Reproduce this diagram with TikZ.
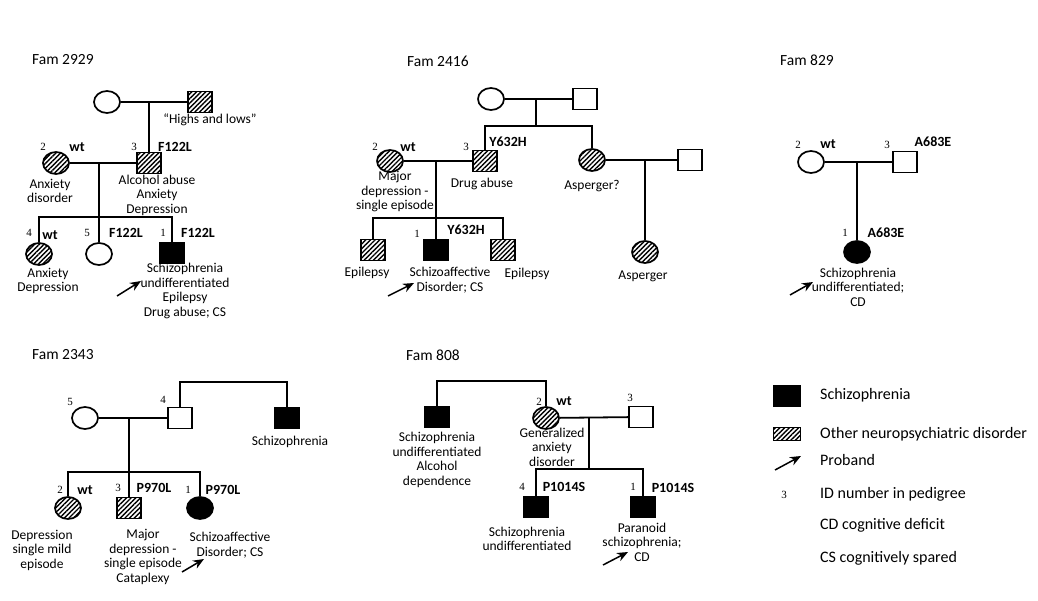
\documentclass[tikz,border=0pt]{standalone}
\usepackage{fontspec}
\setmainfont{Carlito}
\newfontfamily\idfont{Liberation Serif}
\usetikzlibrary{shapes.geometric,patterns.meta,arrows.meta}
\begin{document}
\begin{tikzpicture}[x=1pt,y=-1pt,
 pl/.style={line width=1.8pt},
 ind/.style={draw,line width=1.7pt,inner sep=0pt},
 sq/.style={ind,rectangle,minimum width=24pt,minimum height=21pt},
 ci/.style={ind,ellipse,minimum width=26pt,minimum height=22pt},
 aff/.style={fill=black},
 hat/.style={pattern={Lines[angle=45,distance=3.3pt,line width=1.4pt]}},
 txt/.style={align=center,inner sep=0pt,font=\fontsize{13.5}{14.5}\selectfont},
 mut/.style={inner sep=0pt,font=\fontsize{14}{16}\selectfont\bfseries},
 idn/.style={inner sep=0pt,font=\fontsize{11}{12}\idfont},
 fam/.style={inner sep=0pt,anchor=west,font=\fontsize{15.5}{17}\selectfont},
 leg/.style={inner sep=0pt,anchor=west,font=\fontsize{16}{18}\selectfont},
 prob/.style={line width=1.5pt,-{Stealth[length=11pt,width=9pt]}}
]
\useasboundingbox (0,0) rectangle (1038,601);

% ---------------- Fam 2929
\node[fam] (h1) at (32,60) {Fam 2929};
\node[ci] (a1) at (107,102) {};
\node[sq,hat] (a2) at (200,102) {};
\node[ci,hat] (a3) at (56,163) {};
\node[sq,hat] (a4) at (149,163) {};
\node[ci,hat] (a5) at (39,254) {};
\node[ci] (a6) at (99,254) {};
\node[sq,aff] (a7) at (172,253) {};
\coordinate (a12) at (149,102);
\coordinate (a34) at (99,163);
\coordinate (as) at (99,217);
\draw[pl] (a1) -- (a2);
\draw[pl] (a12) -- (a4);
\draw[pl] (a3) -- (a4);
\draw[pl] (a34) -- (as) -- (a6);
\draw[pl] (a5) |- (as) -| (a7);
\node[txt] (at0) at (210,120) {“Highs and lows”};
\node[idn] (ai2) at (43,147) {2};
\node[mut] (aw2) at (77,147) {wt};
\node[idn] (ai3) at (134,147) {3};
\node[mut] (am3) at (175,147) {F122L};
\node[txt] (at3) at (50,191) {Anxiety\\disorder};
\node[txt] (at4) at (157,195) {Alcohol abuse\\Anxiety\\Depression};
\node[idn] (ai4) at (29,233) {4};
\node[mut] (aw4) at (50,235) {wt};
\node[idn] (ai5) at (87,233) {5};
\node[mut] (am5) at (126,233) {F122L};
\node[idn] (ai1) at (163,233) {1};
\node[mut] (am1) at (198,233) {F122L};
\node[txt] (at5) at (48,281) {Anxiety\\Depression};
\node[txt] (at7) at (185,291) {Schizophrenia\\undifferentiated\\Epilepsy\\Drug abuse; CS};
\coordinate (aa0) at (117,296);
\coordinate (aa1) at (141,281);
\draw[prob] (aa0) -- (aa1);

% ---------------- Fam 2416
\node[fam] (h2) at (407,61) {Fam 2416};
\node[ci] (b1) at (491,99) {};
\node[sq] (b2) at (585,99) {};
\node[ci,hat] (b3) at (390,161) {};
\node[sq,hat] (b4) at (485,161) {};
\node[ci,hat] (b5) at (592,160) {};
\node[sq] (b6) at (690,160) {};
\node[sq,hat] (b7) at (373,250) {};
\node[sq,aff] (b8) at (436,250) {};
\node[sq,hat] (b9) at (503,250) {};
\node[ci,hat] (b10) at (645,252) {};
\coordinate (b12) at (536,99);
\coordinate (bs1) at (536,126);
\coordinate (b34) at (436,161);
\coordinate (bs2) at (436,218);
\coordinate (b56) at (645,160);
\draw[pl] (b1) -- (b2);
\draw[pl] (b12) -- (bs1);
\draw[pl] (b4) |- (bs1) -| (b5);
\draw[pl] (b3) -- (b4);
\draw[pl] (b34) -- (bs2) -- (b8);
\draw[pl] (b7) |- (bs2) -| (b9);
\draw[pl] (b5) -- (b6);
\draw[pl] (b56) -- (b10);
\node[idn] (bi2) at (375,147) {2};
\node[mut] (bw2) at (408,147) {wt};
\node[idn] (bi3) at (466,147) {3};
\node[mut] (bm3) at (508,142) {Y632H};
\node[idn] (bi1) at (417,234) {1};
\node[mut] (bm1) at (466,230) {Y632H};
\node[txt] (bt3) at (395,192) {Major\\depression -\\single episode};
\node[txt] (bt4) at (482,184) {Drug abuse};
\node[txt] (bt5) at (592,186) {Asperger?};
\node[txt] (bt7) at (367,273) {Epilepsy};
\node[txt] (bt8) at (450,280) {Schizoaffective\\Disorder; CS};
\node[txt] (bt9) at (527,274) {Epilepsy};
\node[txt] (bt10) at (643,276) {Asperger};
\coordinate (ba0) at (388,296);
\coordinate (ba1) at (414,283);
\draw[prob] (ba0) -- (ba1);

% ---------------- Fam 829
\node[fam] (h3) at (780,60) {Fam 829};
\node[ci] (c1) at (811,162) {};
\node[sq] (c2) at (905,162) {};
\node[ci,aff] (c3) at (857,252) {};
\coordinate (c12) at (857,162);
\draw[pl] (c1) -- (c2);
\draw[pl] (c12) -- (c3);
\node[idn] (ci2) at (798,145) {2};
\node[mut] (cw2) at (828,144) {wt};
\node[idn] (ci3) at (887,145) {3};
\node[mut] (cm3) at (933,142) {A683E};
\node[idn] (ci1) at (845,233) {1};
\node[mut] (cm1) at (886,233) {A683E};
\node[txt] (ct3) at (858,287) {Schizophrenia\\undifferentiated;\\CD};
\coordinate (ca0) at (790,295);
\coordinate (ca1) at (813,282);
\draw[prob] (ca0) -- (ca1);

% ---------------- Fam 2343
\node[fam] (h4) at (32,355) {Fam 2343};
\node[ci] (d1) at (85,418) {};
\node[sq] (d2) at (180,418) {};
\node[sq,aff] (d3) at (287,418) {};
\node[ci,hat] (d4) at (68,508) {};
\node[sq,hat] (d5) at (129,508) {};
\node[ci,aff] (d6) at (200,508) {};
\coordinate (d12) at (129,418);
\coordinate (ds) at (129,472);
\coordinate (dt) at (234,382);
\draw[pl] (d1) -- (d2);
\draw[pl] (d2) |- (dt) -| (d3);
\draw[pl] (d12) -- (ds) -- (d5);
\draw[pl] (d4) |- (ds) -| (d6);
\node[idn] (di5) at (70,402) {5};
\node[idn] (di4) at (163,400) {4};
\node[txt] (dt3) at (290,442) {Schizophrenia};
\node[idn] (di2) at (60,490) {2};
\node[mut] (dw2) at (85,490) {wt};
\node[idn] (di3) at (118,488) {3};
\node[mut] (dm3) at (154,488) {P970L};
\node[idn] (di1) at (188,490) {1};
\node[mut] (dm1) at (223,490) {P970L};
\node[txt] (dt4) at (42,550) {Depression\\single mild\\episode};
\node[txt] (dt5) at (143,557) {Major\\depression -\\single episode\\Cataplexy};
\node[txt] (dt6) at (230,545) {Schizoaffective\\Disorder; CS};
\coordinate (da0) at (182,572);
\coordinate (da1) at (204,559);
\draw[prob] (da0) -- (da1);

% ---------------- Fam 808
\node[fam] (h5) at (406,355) {Fam 808};
\node[sq,aff] (e1) at (437,417) {};
\node[ci,hat] (e2) at (546,418) {};
\node[sq] (e3) at (641,417) {};
\node[sq,aff] (e4) at (536,507) {};
\node[sq,aff] (e5) at (643,507) {};
\coordinate (et) at (490,381);
\coordinate (e23) at (589,418);
\coordinate (es) at (589,469);
\draw[pl] (e1) |- (et) -| (e2);
\draw[pl] (e2) -- (e3);
\draw[pl] (e23) -- (es);
\draw[pl] (e4) |- (es) -| (e5);
\node[idn] (ei2) at (539,402) {2};
\node[mut] (ew2) at (564,401) {wt};
\node[idn] (ei3) at (630,398) {3};
\node[idn] (ei4) at (522,487) {4};
\node[mut] (em4) at (564,487) {P1014S};
\node[idn] (ei1) at (633,487) {1};
\node[mut] (em1) at (673,488) {P1014S};
\node[txt] (et1) at (437,460) {Schizophrenia\\undifferentiated\\Alcohol\\dependence};
\node[txt] (et2) at (552,447) {Generalized\\anxiety\\disorder};
\node[txt] (et4) at (527,539) {Schizophrenia\\undifferentiated};
\node[txt] (et5) at (642,542) {Paranoid\\schizophrenia;\\CD};
\coordinate (ea0) at (603,565);
\coordinate (ea1) at (628,552);
\draw[prob] (ea0) -- (ea1);

% ---------------- Legend
\node[ind,rectangle,minimum width=26pt,minimum height=20pt,aff] (l1) at (787,396) {};
\node[leg] (lt1) at (820,395) {Schizophrenia};
\node[ind,rectangle,minimum width=27pt,minimum height=13pt,hat] (l2) at (787,434) {};
\node[leg] (lt2) at (820,434) {Other neuropsychiatric disorder};
\coordinate (la0) at (775,470);
\coordinate (la1) at (801,456);
\draw[prob] (la0) -- (la1);
\node[leg] (lt3) at (820,460) {Proband};
\node[idn] (li) at (784,495) {3};
\node[leg] (lt4) at (820,494) {ID number in pedigree};
\node[leg] (lt5) at (820,525) {CD cognitive deficit};
\node[leg] (lt6) at (820,558) {CS cognitively spared};
\end{tikzpicture}
\end{document}
